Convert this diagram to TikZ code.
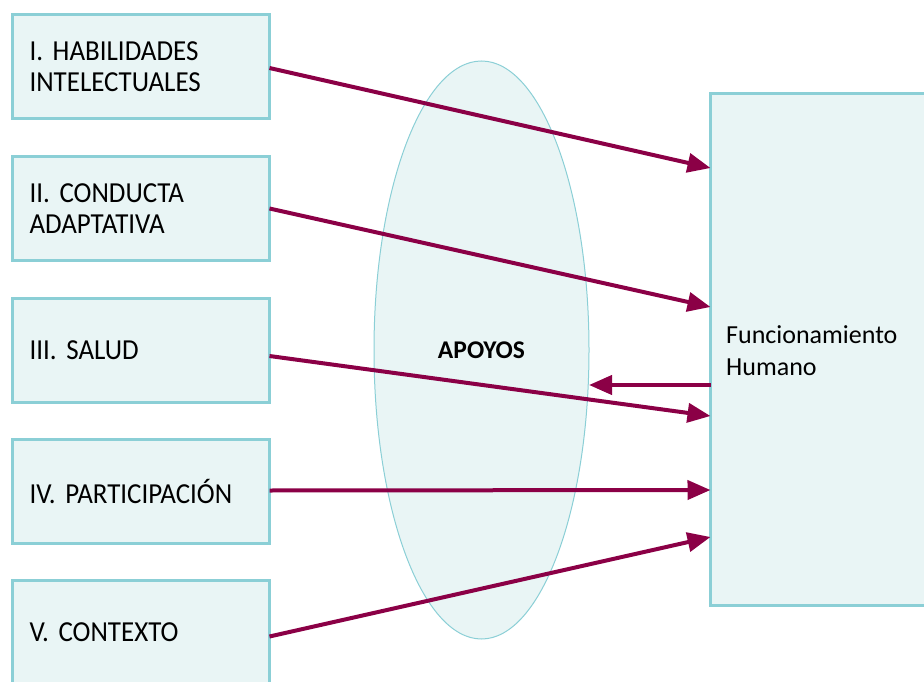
\documentclass[tikz,border=0pt]{standalone}
\usepackage{fontspec}
\setmainfont{Carlito}
\newfontfamily\narrowf{Carlito}[FakeStretch=0.93, WordSpace=0.75]
\usetikzlibrary{arrows.meta,shapes.geometric}
\definecolor{boxfill}{HTML}{E9F5F5}
\definecolor{boxline}{HTML}{8BCFD6}
\definecolor{arrowc}{HTML}{8B0046}
\frenchspacing
\begin{document}
\begin{tikzpicture}[x=1pt,y=-1pt,
  lbox/.style={draw=boxline, line width=3pt, fill=boxfill, outer sep=0pt,
    minimum width=257pt, minimum height=104pt, text width=223pt,
    inner xsep=11pt, inner ysep=0pt, align=left, anchor=north west,
    font=\narrowf\fontsize{29}{31}\selectfont},
  conn/.style={draw=arrowc, line width=4pt, -{Triangle[length=23pt,width=19pt]}}]
\useasboundingbox (0,0) rectangle (924,682);
\clip (0,0) rectangle (924,682);
% left boxes
\node[lbox] (b1) at (12.5,14.5) {I. HABILIDADES\\INTELECTUALES};
\node[lbox] (b2) at (12.5,156.5) {II. CONDUCTA\\ADAPTATIVA};
\node[lbox] (b3) at (12.5,298) {III. SALUD};
\node[lbox] (b4) at (12.5,439.5) {IV. PARTICIPACIÓN};
\node[lbox] (b5) at (12.5,580.5) {V. CONTEXTO};
% big box
\node[draw=boxline, line width=3pt, fill=boxfill, outer sep=0pt, anchor=north west,
  minimum width=260pt, minimum height=512pt] (F) at (710.5,93.5) {};
\node[anchor=base west, align=left, inner sep=0pt,
  font=\fontsize{26}{32}\selectfont] (ft) at (726,375) {Funcionamiento\\Humano};
% ellipse
\node[ellipse, draw=boxline, line width=1pt, fill=boxfill, minimum width=215pt,
  minimum height=578pt, inner sep=0pt, outer sep=0pt,
  font=\bfseries\fontsize{25.5}{30}\selectfont] (ap) at (481.5,350) {APOYOS};
% connectors
\draw[conn] ([yshift=-1.5pt]b1.east) -- ([yshift=181.5pt]F.west);
\draw[conn] (b2.east) -- ([yshift=42.5pt]F.west);
\draw[conn] ([yshift=-6pt]b3.east) -- ([yshift=-66.5pt]F.west);
\draw[conn] ([yshift=1pt]b4.east) -- ([yshift=-140.5pt]F.west);
\draw[conn] ([yshift=-4pt]b5.east) -- ([yshift=-187.5pt]F.west);
\draw[conn] ([yshift=-35.5pt]F.west) -- ([yshift=-35pt]ap.east);
\end{tikzpicture}
\end{document}
